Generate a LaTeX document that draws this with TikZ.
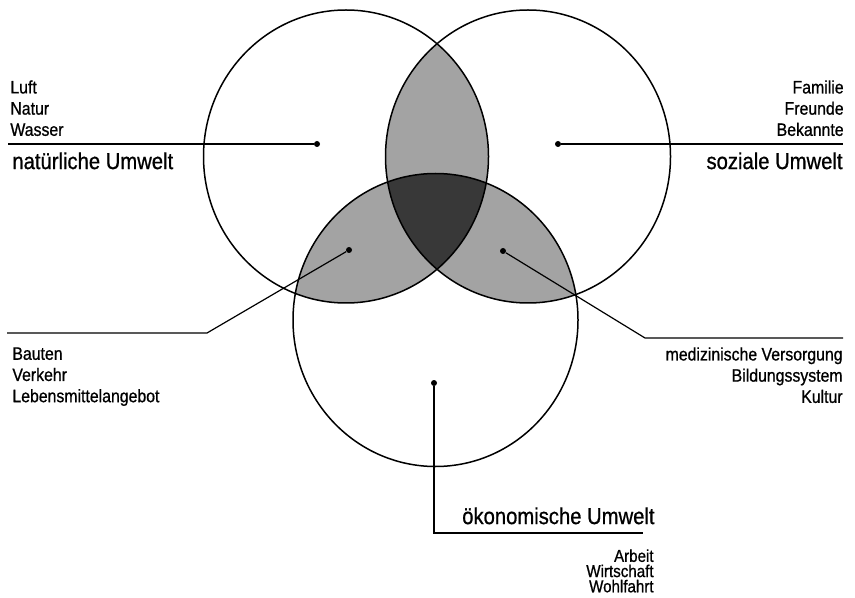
\documentclass[tikz,border=0pt]{standalone}
\usepackage{fontspec}
\setmainfont{Liberation Sans}[FakeStretch=0.88,FakeBold=0.8]
\usepackage{tikz}
\usetikzlibrary{positioning}
\definecolor{venLens}{gray}{0.64}
\definecolor{venCore}{gray}{0.22}
\tikzset{
  ring/.style={draw=black, line width=0.75pt},
  ringsize/.style={x radius=142.5, y radius=146.5},
  lens/.style={fill=venLens},
  core/.style={fill=venCore},
  pin/.style={circle, fill=black, inner sep=0pt, minimum size=3pt},
  leader/.style={draw=black, line width=0.6pt},
  itemlist/.style={inner sep=0pt, font=\fontsize{9}{10.6}\selectfont},
  biglabel/.style={inner sep=0pt, font=\fontsize{11.5}{13}\selectfont}
}

\begin{document}
\begin{tikzpicture}[x=0.5pt,y=-0.5pt]
  \useasboundingbox (0,0) rectangle (855,598);
  \coordinate (cN) at (346,156.5);
  \coordinate (cS) at (528,156.5);
  \coordinate (cO) at (435.5,320);
  % overlaps
  \begin{scope}
    \clip (cN) ellipse [ringsize];
    \fill[lens] (cS) ellipse [ringsize];
    \fill[lens] (cO) ellipse [ringsize];
  \end{scope}
  \begin{scope}
    \clip (cS) ellipse [ringsize];
    \fill[lens] (cO) ellipse [ringsize];
  \end{scope}
  \begin{scope}
    \clip (cN) ellipse [ringsize];
    \clip (cS) ellipse [ringsize];
    \fill[core] (cO) ellipse [ringsize];
  \end{scope}
  \draw[ring] (cN) ellipse [ringsize];
  \draw[ring] (cS) ellipse [ringsize];
  \draw[ring] (cO) ellipse [ringsize];
  % pins and leaders
  \node[pin] (natur) at (317,144) {};
  \node[pin] (sozial) at (558,144) {};
  \node[pin] (bauten) at (349,250) {};
  \node[pin] (medizin) at (503,251) {};
  \node[pin] (oekon) at (434,383) {};
  \coordinate (naturEnd) at (8,144);
  \coordinate (sozialEnd) at (843,144);
  \coordinate (bautenKnee) at (207,333);
  \coordinate (bautenEnd) at (7,333);
  \coordinate (medizinKnee) at (645,338);
  \coordinate (medizinEnd) at (843,338);
  \coordinate (oekonKnee) at (434,533);
  \coordinate (oekonEnd) at (643,533);
  \draw[leader] (natur) -- (naturEnd);
  \draw[leader] (sozial) -- (sozialEnd);
  \draw[leader] (bauten) -- (bautenKnee) -- (bautenEnd);
  \draw[leader] (medizin) -- (medizinKnee) -- (medizinEnd);
  \draw[leader] (oekon) -- (oekonKnee) -- (oekonEnd);
  % texts
  \node[itemlist, align=left, anchor=north west] (naturList) at (10,80) {Luft\\Natur\\Wasser};
  \node[biglabel, anchor=north west] (naturName) at (12,152) {natürliche Umwelt};
  \node[itemlist, align=right, anchor=north east] (sozialList) at (844,80) {Familie\\Freunde\\Bekannte};
  \node[biglabel, anchor=north east] (sozialName) at (843,152) {soziale Umwelt};
  \node[itemlist, align=left, anchor=north west] (bautenList) at (12,347) {Bauten\\Verkehr\\Lebensmittelangebot};
  \node[itemlist, align=right, anchor=north east] (medizinList) at (843,347) {medizinische Versorgung\\Bildungssystem\\Kultur};
  \node[biglabel, anchor=north east] (oekonName) at (655,507) {ökonomische Umwelt};
  \node[itemlist, font=\fontsize{8.6}{7.6}\selectfont, align=right, anchor=north east] (oekonList) at (654,549) {Arbeit\\Wirtschaft\\Wohlfahrt};
\end{tikzpicture}
\end{document}
